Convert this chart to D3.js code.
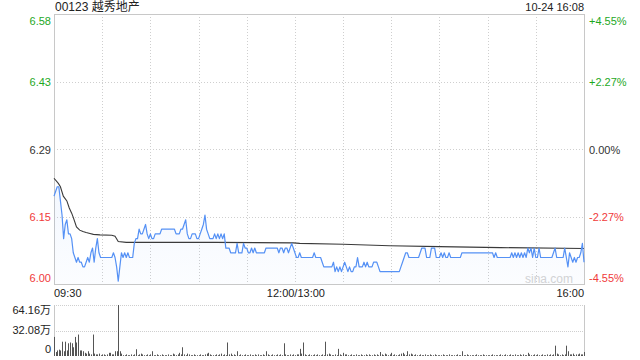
<!DOCTYPE html>
<html>
<head>
<meta charset="utf-8">
<script src="https://cdn.jsdelivr.net/npm/d3@7/dist/d3.min.js"></script>
<style>
  body { margin: 0; background: #fff; }
  svg { display: block; font-family: Arial, 'Liberation Sans', 'Noto Sans CJK SC', sans-serif; }
</style>
</head>
<body>
<svg id="chart" width="640" height="360"></svg>
<script>
const title = '00123 越秀地产';
const stamp = '10-24 16:08';
const prevClose = 6.29;
const maxPct = 0.0455;
const priceTicks = ['6.58', '6.43', '6.29', '6.15', '6.00'];
const pctTicks = ['+4.55%', '+2.27%', '0.00%', '-2.27%', '-4.55%'];
const timeLabels = ['09:30', '12:00/13:00', '16:00'];
const volTicks = ['64.16万', '32.08万', '0'];
const volMax = 64.16;

// one price per minute, 09:30 .. 16:00 (lunch removed)
const prices = [
  6.19,6.20,6.21,6.21,6.18,6.15,6.10,6.13,6.14,6.11,
  6.11,6.10,6.07,6.06,6.05,6.06,6.05,6.05,6.04,6.04,
  6.05,6.06,6.05,6.07,6.08,6.05,6.08,6.10,6.07,6.06,
  6.06,6.06,6.06,6.06,6.06,6.06,6.06,6.07,6.06,6.04,
  6.01,6.04,6.07,6.06,6.07,6.06,6.07,6.06,6.06,6.06,
  6.09,6.10,6.10,6.12,6.11,6.11,6.12,6.13,6.11,6.10,
  6.11,6.10,6.10,6.11,6.11,6.11,6.11,6.12,6.12,6.12,
  6.12,6.12,6.12,6.12,6.12,6.12,6.11,6.11,6.11,6.12,
  6.12,6.13,6.14,6.11,6.10,6.10,6.11,6.11,6.11,6.10,
  6.10,6.11,6.12,6.13,6.15,6.12,6.11,6.10,6.10,6.10,
  6.11,6.10,6.11,6.10,6.11,6.10,6.11,6.08,6.08,6.08,
  6.07,6.07,6.07,6.07,6.09,6.07,6.07,6.07,6.09,6.08,
  6.08,6.07,6.07,6.08,6.07,6.08,6.07,6.07,6.07,6.07,
  6.07,6.07,6.08,6.08,6.08,6.08,6.08,6.08,6.08,6.08,
  6.07,6.08,6.08,6.07,6.08,6.08,6.07,6.08,6.09,6.08,
  6.07,6.06,6.06,6.07,6.06,6.06,6.06,6.06,6.06,6.06,
  6.06,6.06,6.07,6.06,6.06,6.06,6.06,6.05,6.04,6.04,
  6.04,6.04,6.04,6.04,6.05,6.03,6.04,6.03,6.04,6.03,
  6.04,6.05,6.04,6.03,6.04,6.03,6.03,6.04,6.04,6.06,
  6.04,6.04,6.04,6.05,6.04,6.05,6.04,6.04,6.04,6.05,
  6.05,6.05,6.04,6.03,6.03,6.03,6.03,6.03,6.03,6.03,
  6.03,6.03,6.03,6.03,6.03,6.03,6.04,6.05,6.06,6.07,
  6.07,6.06,6.06,6.06,6.06,6.06,6.06,6.06,6.07,6.08,
  6.08,6.08,6.06,6.06,6.06,6.08,6.08,6.08,6.06,6.06,
  6.06,6.07,6.06,6.07,6.06,6.06,6.07,6.06,6.06,6.06,
  6.06,6.06,6.06,6.06,6.07,6.07,6.07,6.07,6.07,6.07,
  6.07,6.07,6.07,6.07,6.07,6.07,6.07,6.07,6.07,6.07,
  6.07,6.07,6.07,6.07,6.06,6.07,6.06,6.06,6.06,6.06,
  6.06,6.06,6.06,6.06,6.06,6.07,6.06,6.07,6.06,6.07,
  6.06,6.07,6.06,6.07,6.06,6.08,6.07,6.08,6.06,6.08,
  6.06,6.06,6.08,6.06,6.06,6.06,6.06,6.06,6.06,6.06,
  6.06,6.07,6.08,6.06,6.06,6.06,6.06,6.06,6.08,6.06,
  6.04,6.07,6.06,6.05,6.06,6.05,6.06,6.06,6.07,6.09,
  6.05
];

// average price line, read at these minutes
const avgMinutes = [0, 2.7, 4, 5.8, 8, 9.5, 11, 12, 14, 16, 18, 20, 22.4, 24.5, 28.6, 36, 38, 40, 45, 60, 100, 149, 153, 180, 209, 240, 278, 330];
const avgValues = [6.228, 6.217, 6.21, 6.19, 6.18, 6.165, 6.154, 6.145, 6.125, 6.118, 6.115, 6.113, 6.111, 6.109, 6.108, 6.107, 6.105, 6.094, 6.092, 6.092, 6.092, 6.091, 6.090, 6.088, 6.085, 6.083, 6.081, 6.079];

// volume per minute, in 万 shares
const volumes = [
  24,5,7,8,7,18,6,18,7,16,
  17,16,11,24,17,27,7,7,6,4,
  3,6,3,2,27,3,2,2,3,1,
  2,2,1,2,4,4,2,2,6,6,
  64.16,6,3,1,1,2,1,1,2,1,
  2,8.5,1,2,3,2,1,1,2,1,
  2,6,1,1,2,1,1,2,1,1,
  1,2,1,1,3,2,1,2,4,2,
  11,2,1,3,2,1,1,2,1,1,
  1,2,1,1,2,3,4,2,1,1,
  1,2,1,2,3,1,2,1,17,2,
  3,1,2,1,6,1,2,1,1,2,
  1,1,2,1,1,2,1,2,1,1,
  2,1,6,2,1,1,2,1,1,2,
  1,2,1,16,2,1,1,2,1,2,
  1,2,2,9,3,17,2,1,1,2,
  1,1,2,1,2,1,1,2,1,18,
  2,3,2,1,1,2,1,9,2,1,
  4,2,2,1,1,2,1,1,2,1,
  1,2,1,1,2,1,2,1,1,2,
  1,2,1,5,2,1,3,2,1,2,
  4,1,2,1,1,2,3,4,2,1,
  6,2,3,2,1,2,1,1,2,1,
  1,2,1,1,2,1,1,2,1,1,
  1,1,2,1,1,1,2,1,1,1,
  1,2,1,1,6,1,1,2,1,1,
  1,1,1,2,1,1,1,2,1,1,
  1,1,1,2,1,1,1,1,2,1,
  1,2,1,1,2,1,1,2,1,1,
  2,1,2,1,1,4,2,1,1,2,
  1,2,1,1,2,1,1,2,1,2,
  1,2,13,3,2,1,2,1,2,13,
  6,2,2,3,1,2,2,3,2,2,
  5
];

const green = '#1ea81e';
const red = '#f03a3a';
const dark = '#333';
const grid = '#cfcfcf';

const padL = 54, padR = 584;
const pTop = 14, pBot = 284;
const vTop = 305, vBot = 356;

const svg = d3.select('#chart');

const x = d3.scaleLinear().domain([0, 330]).range([padL, padR]);
const y = d3.scaleLinear()
  .domain([prevClose * (1 - maxPct), prevClose * (1 + maxPct)])
  .range([pBot, pTop]);
const yv = d3.scaleLinear().domain([0, volMax]).range([vBot, vTop]);

const tickColor = (i) => (i < 2 ? green : i === 2 ? dark : red);

// gradient under the price line
const defs = svg.append('defs');
const grad = defs.append('linearGradient')
  .attr('id', 'fillGrad')
  .attr('x1', 0).attr('y1', 0).attr('x2', 0).attr('y2', 1);
grad.append('stop').attr('offset', '0%').attr('stop-color', '#5591f5').attr('stop-opacity', 0.07);
grad.append('stop').attr('offset', '100%').attr('stop-color', '#5591f5').attr('stop-opacity', 0.02);

// price panel grid
const hLines = [1, 2, 3].map((i) => pTop + (pBot - pTop) * i / 4);
svg.append('g').selectAll('line').data(hLines).enter().append('line')
  .attr('x1', padL).attr('x2', padR)
  .attr('y1', (d) => Math.round(d) + 0.5).attr('y2', (d) => Math.round(d) + 0.5)
  .attr('stroke', grid).attr('stroke-dasharray', '1,2');

const vTicks = d3.range(30, 330, 30);
svg.append('g').selectAll('line').data(vTicks).enter().append('line')
  .attr('x1', (d) => Math.round(x(d)) + 0.5).attr('x2', (d) => Math.round(x(d)) + 0.5)
  .attr('y1', pTop).attr('y2', pBot)
  .attr('stroke', grid).attr('stroke-dasharray', '1,2');

svg.append('rect')
  .attr('x', padL + 0.5).attr('y', pTop + 0.5)
  .attr('width', padR - padL).attr('height', pBot - pTop)
  .attr('fill', 'none').attr('stroke', '#c8c8c8');

// watermark
svg.append('text')
  .attr('x', padR - 11).attr('y', pBot - 1)
  .attr('text-anchor', 'end')
  .attr('font-size', 12)
  .attr('fill', '#d4d4d4')
  .text('sina.com');

// area + lines
const area = d3.area()
  .x((d, i) => x(i))
  .y0(pBot)
  .y1((d) => y(d));
svg.append('path').datum(prices)
  .attr('d', area)
  .attr('fill', 'url(#fillGrad)');

const avgLine = d3.line()
  .x((d, i) => x(avgMinutes[i]))
  .y((d) => y(d));
svg.append('path').datum(avgValues)
  .attr('d', avgLine)
  .attr('fill', 'none')
  .attr('stroke', '#3a3a3a')
  .attr('stroke-width', 1.1);

const priceLine = d3.line()
  .x((d, i) => x(i))
  .y((d) => y(d));
svg.append('path').datum(prices)
  .attr('d', priceLine)
  .attr('fill', 'none')
  .attr('stroke', '#5591f5')
  .attr('stroke-width', 1.2)
  .attr('stroke-linejoin', 'round');

// price labels left / percent labels right
const labelY = (i) => pTop + (pBot - pTop) * i / 4 + (i === 0 ? 7 : i === 4 ? -6 : 1);
svg.append('g').selectAll('text').data(priceTicks).enter().append('text')
  .attr('x', padL - 3)
  .attr('y', (d, i) => labelY(i))
  .attr('dy', '0.35em')
  .attr('text-anchor', 'end')
  .attr('font-size', 11)
  .attr('fill', (d, i) => tickColor(i))
  .text((d) => d);

svg.append('g').selectAll('text').data(pctTicks).enter().append('text')
  .attr('x', padR + 5)
  .attr('y', (d, i) => labelY(i))
  .attr('dy', '0.35em')
  .attr('text-anchor', 'start')
  .attr('font-size', 11)
  .attr('fill', (d, i) => tickColor(i))
  .text((d) => d);

// title and timestamp
svg.append('text')
  .attr('x', padL + 1).attr('y', 11)
  .attr('font-size', 12).attr('fill', '#222')
  .text(title);
svg.append('text')
  .attr('x', padR).attr('y', 11)
  .attr('text-anchor', 'end')
  .attr('font-size', 11).attr('fill', '#222')
  .text(stamp);

// time labels
const timeAnchor = ['start', 'middle', 'end'];
const timePos = [padL, x(150) + 1, padR];
svg.append('g').selectAll('text').data(timeLabels).enter().append('text')
  .attr('x', (d, i) => timePos[i])
  .attr('y', 297)
  .attr('text-anchor', (d, i) => timeAnchor[i])
  .attr('font-size', 11).attr('fill', '#222')
  .text((d) => d);

// volume panel
const volGrid = [vTop, yv(volMax / 2)];
svg.append('g').selectAll('line').data(volGrid).enter().append('line')
  .attr('x1', padL).attr('x2', padR)
  .attr('y1', (d) => Math.round(d) + 0.5).attr('y2', (d) => Math.round(d) + 0.5)
  .attr('stroke', grid).attr('stroke-dasharray', '1,1');

svg.append('line')
  .attr('x1', padL + 0.5).attr('x2', padL + 0.5)
  .attr('y1', vTop).attr('y2', vBot)
  .attr('stroke', '#c8c8c8');
svg.append('line')
  .attr('x1', padR + 0.5).attr('x2', padR + 0.5)
  .attr('y1', vTop).attr('y2', vBot)
  .attr('stroke', '#c8c8c8');

svg.append('g').selectAll('rect').data(volumes).enter().append('rect')
  .attr('x', (d, i) => Math.round(x(i)))
  .attr('y', (d) => yv(d))
  .attr('width', 1)
  .attr('height', (d) => vBot - yv(d))
  .attr('fill', '#555');

const volLabelY = [vTop + 5, yv(volMax / 2), vBot - 7];
svg.append('g').selectAll('text').data(volTicks).enter().append('text')
  .attr('x', padL - 3)
  .attr('y', (d, i) => volLabelY[i])
  .attr('dy', '0.35em')
  .attr('text-anchor', 'end')
  .attr('font-size', 11)
  .attr('fill', '#222')
  .text((d) => d);
</script>
</body>
</html>
